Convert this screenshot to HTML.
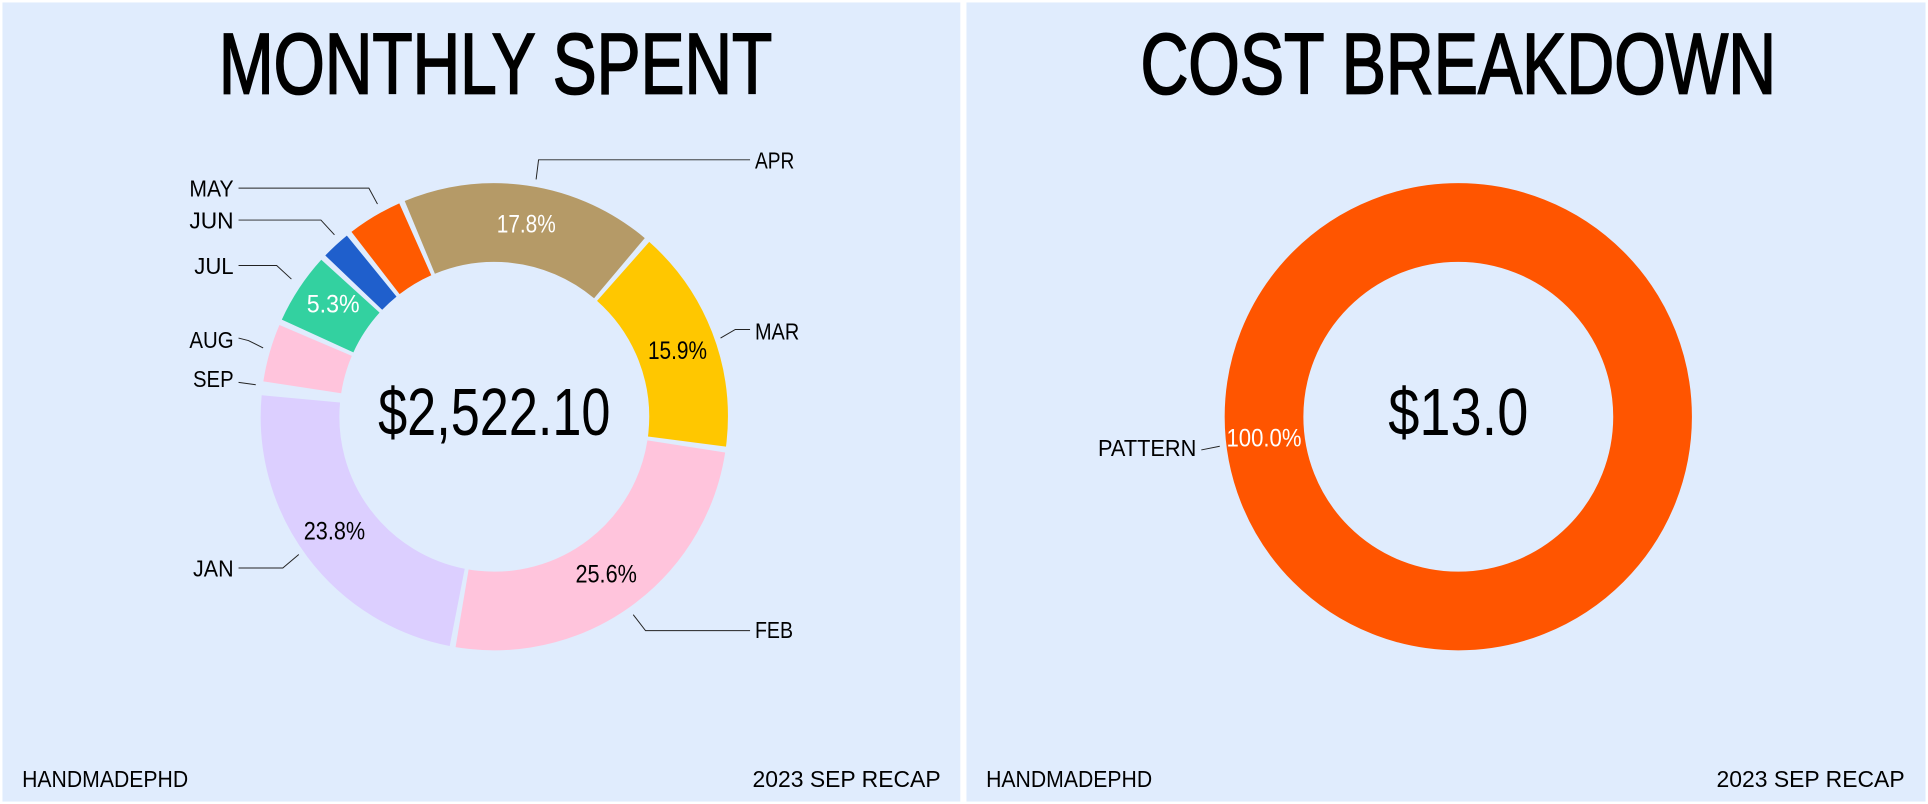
<!DOCTYPE html>
<html><head><meta charset="utf-8"><style>
html,body{margin:0;padding:0;background:#fff;}
svg{display:block;}
text{font-family:"Liberation Sans Narrow","Liberation Sans",sans-serif;}
</style></head><body>
<svg width="1928" height="804" viewBox="0 0 1568 654" preserveAspectRatio="none" xmlns="http://www.w3.org/2000/svg">
<rect x="0" y="0" width="1568" height="654" fill="#ffffff"/>
<rect x="2" y="2" width="779" height="650" fill="#e0ecfd"/>
<rect x="786" y="2" width="780" height="650" fill="#e0ecfd"/>

<!-- titles -->
<text x="403" y="76" font-size="70" text-anchor="middle" textLength="450" lengthAdjust="spacingAndGlyphs" fill="#000" stroke="#000" stroke-width="1.5">MONTHLY SPENT</text>
<text x="1186" y="76" font-size="70" text-anchor="middle" textLength="517" lengthAdjust="spacingAndGlyphs" fill="#000" stroke="#000" stroke-width="1.5">COST BREAKDOWN</text>

<!-- left donut -->
<g transform="translate(402,339) scale(1,-1) rotate(174)" fill="none" stroke-width="64">
<circle r="158" stroke="#dccfff" stroke-dasharray="232.27 992.74" stroke-dashoffset="-2"/>
<circle r="158" stroke="#ffc4dc" stroke-dasharray="250.14 992.74" stroke-dashoffset="-238.27"/>
<circle r="158" stroke="#ffc700" stroke-dasharray="153.85 992.74" stroke-dashoffset="-492.41"/>
<circle r="158" stroke="#b59a67" stroke-dasharray="172.71 992.74" stroke-dashoffset="-650.26"/>
<circle r="158" stroke="#ff5a00" stroke-dasharray="37.7 992.74" stroke-dashoffset="-826.97"/>
<circle r="158" stroke="#1f5fcc" stroke-dasharray="19.83 992.74" stroke-dashoffset="-868.67"/>
<circle r="158" stroke="#33d1a0" stroke-dasharray="48.62 992.74" stroke-dashoffset="-892.5"/>
<circle r="158" stroke="#ffc4dc" stroke-dasharray="39.68 992.74" stroke-dashoffset="-945.12"/>
</g>

<!-- leader lines -->
<g stroke="#222" stroke-width="0.8" fill="none">
<polyline points="436,146 438,130 610,130"/>
<polyline points="586,275 598,268 610,268"/>
<polyline points="515,500 525,513 610,513"/>
<polyline points="194,462 230,462 243,451"/>
<polyline points="194,311 208,313"/>
<polyline points="194,275 202,277 214,283"/>
<polyline points="194,216 225,216 237,227"/>
<polyline points="194,179 261,179 272,191"/>
<polyline points="194,153 300,153 307,166"/>
<polyline points="977,366 992,363"/>
</g>

<g font-size="19" fill="#000">
<text x="614" y="137" textLength="32" lengthAdjust="spacingAndGlyphs">APR</text>
<text x="614" y="276" textLength="36" lengthAdjust="spacingAndGlyphs">MAR</text>
<text x="614" y="519" textLength="31" lengthAdjust="spacingAndGlyphs">FEB</text>
<text x="190" y="469" text-anchor="end" textLength="33" lengthAdjust="spacingAndGlyphs">JAN</text>
<text x="190" y="315" text-anchor="end" textLength="33" lengthAdjust="spacingAndGlyphs">SEP</text>
<text x="190" y="283" text-anchor="end" textLength="36" lengthAdjust="spacingAndGlyphs">AUG</text>
<text x="190" y="223" text-anchor="end" textLength="32" lengthAdjust="spacingAndGlyphs">JUL</text>
<text x="190" y="186" text-anchor="end" textLength="36" lengthAdjust="spacingAndGlyphs">JUN</text>
<text x="190" y="160" text-anchor="end" textLength="36" lengthAdjust="spacingAndGlyphs">MAY</text>
<text x="973" y="371" text-anchor="end" textLength="80" lengthAdjust="spacingAndGlyphs">PATTERN</text>
</g>

<g font-size="20">
<text x="428" y="189" text-anchor="middle" fill="#fff" textLength="48" lengthAdjust="spacingAndGlyphs">17.8%</text>
<text x="551" y="292" text-anchor="middle" fill="#000" textLength="48" lengthAdjust="spacingAndGlyphs">15.9%</text>
<text x="493" y="474" text-anchor="middle" fill="#000" textLength="50" lengthAdjust="spacingAndGlyphs">25.6%</text>
<text x="272" y="439" text-anchor="middle" fill="#000" textLength="50" lengthAdjust="spacingAndGlyphs">23.8%</text>
<text x="271" y="254" text-anchor="middle" fill="#fff" textLength="43" lengthAdjust="spacingAndGlyphs">5.3%</text>
</g>

<text x="402" y="354" font-size="54" text-anchor="middle" fill="#000" textLength="189" lengthAdjust="spacingAndGlyphs">$2,522.10</text>

<!-- right donut -->
<circle cx="1186" cy="339" r="158" fill="none" stroke="#ff5500" stroke-width="64"/>
<text x="1028" y="363" font-size="20" text-anchor="middle" fill="#fff" textLength="61" lengthAdjust="spacingAndGlyphs">100.0%</text>
<text x="1186" y="354" font-size="54" text-anchor="middle" fill="#000" textLength="114" lengthAdjust="spacingAndGlyphs">$13.0</text>

<!-- footers -->
<g font-size="19" fill="#000">
<text x="18" y="640" textLength="135" lengthAdjust="spacingAndGlyphs">HANDMADEPHD</text>
<text x="765" y="640" text-anchor="end" textLength="153" lengthAdjust="spacingAndGlyphs">2023 SEP RECAP</text>
<text x="802" y="640" textLength="135" lengthAdjust="spacingAndGlyphs">HANDMADEPHD</text>
<text x="1549" y="640" text-anchor="end" textLength="153" lengthAdjust="spacingAndGlyphs">2023 SEP RECAP</text>
</g>
</svg>
</body></html>
